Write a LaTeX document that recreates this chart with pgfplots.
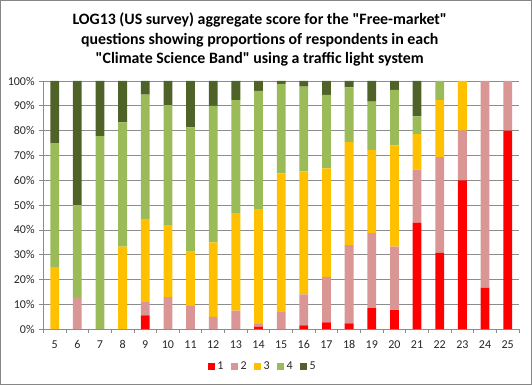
\documentclass[border=0pt]{standalone}
\usepackage{fontspec}
\setmainfont{Carlito}
\usepackage{pgfplots}
\usepackage{pgfplotstable}
\pgfplotsset{compat=1.18}
\usetikzlibrary{calc}
\definecolor{cA}{HTML}{FF0000}
\definecolor{cB}{HTML}{D99694}
\definecolor{cC}{HTML}{FFC000}
\definecolor{cD}{HTML}{9BBB59}
\definecolor{cE}{HTML}{4F6228}
\definecolor{gridc}{HTML}{8C8C8C}
\definecolor{borderc}{HTML}{868686}
\pgfplotstableread{
x s1 s2 s3 s4 s5
5 0 0 25 50 25
6 0 12.5 0 37.5 50
7 0 0 0 77.8 22.2
8 0 0 33.3 50 16.7
9 5.6 5.6 33.3 50 5.5
10 0 12.9 29.0 48.4 9.7
11 0 9.4 21.9 50 18.7
12 0 5 30 55 10
13 0 7.5 39.3 45.5 7.7
14 1.0 1.2 46.2 47.6 4.0
15 0 6.9 55.9 36.0 1.2
16 1.6 12.4 49.6 34.1 2.3
17 2.8 18.3 43.7 29.6 5.6
18 2.4 31.5 41.5 22.0 2.6
19 8.5 30.2 33.5 19.5 8.3
20 7.7 25.6 40.8 22.3 3.6
21 42.9 21.4 14.3 7.1 14.3
22 30.8 38.5 23.0 7.7 0
23 60 20 20 0 0
24 16.7 83.3 0 0 0
25 80 20 0 0 0
}\datatable
\begin{document}
\begin{tikzpicture}
\begin{axis}[
  name=ax,
  scale only axis,
  width=356.8pt, height=186.2pt,
  ybar stacked, bar width=6.6pt,
  xmin=4.5, xmax=25.5, ymin=0, ymax=100,
  xtick={5,...,25},
  minor xtick={4.5,5.5,...,25.5},
  ytick={0,10,...,100},
  yticklabel={\pgfmathprintnumber{\tick}\%},
  /pgf/number format/assume math mode=true,
  axis lines=left,
  axis line style={-, draw=gridc, line width=0.6pt},
  tick align=outside,
  major x tick style={draw=none},
  minor x tick style={draw=gridc, line width=0.6pt},
  major y tick style={draw=gridc, line width=0.6pt},
  major tick length=3pt, minor tick length=3pt,
  ymajorgrids,
  grid style={draw=gridc, line width=0.6pt},
  tick label style={font=\fontsize{9}{10}\selectfont, text=black!85},
  xticklabel style={yshift=-2pt},
  clip=false,
  legend columns=5,
  legend style={draw=none, fill=none, at={(0.462,-0.152)}, anchor=center,
    font=\fontsize{9}{10}\selectfont, text=black!85,
    /tikz/every even column/.append style={column sep=3.5pt}},
  legend image code/.code={\fill[#1] (0pt,-2.6pt) rectangle (5.2pt,2.6pt);},
]
\addplot[fill=cA, draw=none] table[x=x, y=s1] {\datatable};
\addplot[fill=cB, draw=none] table[x=x, y=s2] {\datatable};
\addplot[fill=cC, draw=none] table[x=x, y=s3] {\datatable};
\addplot[fill=cD, draw=none] table[x=x, y=s4] {\datatable};
\addplot[fill=cE, draw=none] table[x=x, y=s5] {\datatable};
\legend{1,2,3,4,5}
\end{axis}
\node[align=center, font=\fontsize{11.9}{14.6}\selectfont\bfseries] at ($(ax.north west)!0.455!(ax.north east)+(0,31.1pt)$)
  {LOG13 (US survey) aggregate score for the \textquotedbl Free-market\textquotedbl\\questions showing proportions of respondents in each\\\textquotedbl Climate Science Band\textquotedbl\ using a traffic light system};
\draw[borderc, line width=0.8pt] ($(ax.south west)+(-32.1pt,-41.4pt)$) rectangle ($(ax.north east)+(9.35pt,60.35pt)$);
\path[use as bounding box] ($(ax.south west)+(-32.5pt,-41.8pt)$) rectangle ($(ax.north east)+(9.75pt,60.75pt)$);
\end{tikzpicture}
\end{document}
